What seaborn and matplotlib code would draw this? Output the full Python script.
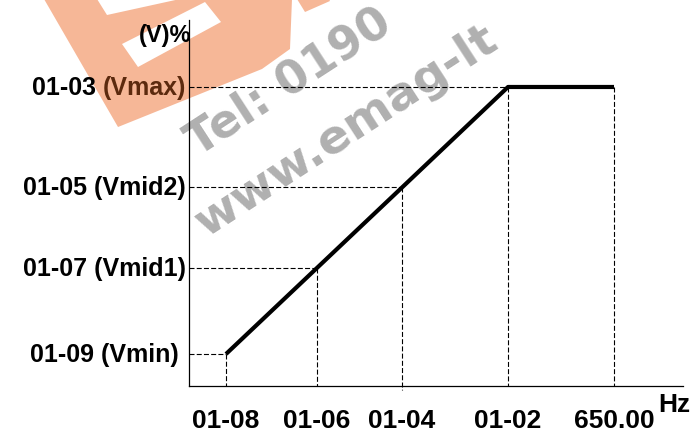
import matplotlib
matplotlib.use("Agg")
import matplotlib.pyplot as plt
from matplotlib.patches import Polygon
from matplotlib.transforms import Affine2D, offset_copy
import pandas as pd
import seaborn as sns

sns.set_style("white")
plt.rcParams["font.family"] = ["Liberation Sans", "DejaVu Sans"]

# V/f curve break points (parameter names as axis labels)
freq_labels = ["01-08", "01-06", "01-04", "01-02", "650.00"]
freq = [56.6, 195.8, 325.8, 487.9, 650.0]
volt_labels = ["01-09 (Vmin) ", "01-07 (Vmid1)", "01-05 (Vmid2)", "01-03 (Vmax)"]
volt = [10.7, 39.5, 66.4, 100.0]
curve_volt = volt + [volt[-1]]  # voltage stays at Vmax above base frequency

W, H = 693, 439
fig = plt.figure(figsize=(W / 100, H / 100), dpi=100)
ax = fig.add_axes([189 / W, 52 / H, 494 / W, 366 / H])
ax.patch.set_alpha(0)

# ---- background logo / watermark (figure pixel coordinates, y downward) ----
px = Affine2D().scale(1 / W, -1 / H).translate(0, 1) + fig.transFigure
orange = "#F6B797"
logo_parts = [
    [(44, 0), (118, 128), (262, 70), (290, 50), (292, 0)],
    [(297, 0), (305, 13), (330, 2), (329, 0)],
]
holes = [
    [(122, 45), (138, 68), (221, 23), (205, 3)],
    [(97, 0), (107, 16), (180, 0)],
]
for pts in logo_parts:
    fig.add_artist(Polygon(pts, closed=True, transform=px, fc=orange, ec="none", zorder=-3))
for pts in holes:
    fig.add_artist(Polygon(pts, closed=True, transform=px, fc="white", ec="none", zorder=-2))
wm = dict(rotation=33, rotation_mode="anchor", ha="left", va="baseline",
          fontweight="bold", color="#b0b0b0", family="DejaVu Sans", zorder=-1)
fig.text(198 / W, 1 - 157 / H, "Tel: 0190", fontsize=33, **wm)
fig.text(206 / W, 1 - 238 / H, "www.emag-lt", fontsize=34, **wm)

# ---- the V/f curve ----
df = pd.DataFrame({"Hz": freq, "V": curve_volt})
sns.lineplot(data=df, x="Hz", y="V", ax=ax, color="black", lw=3.0,
             sort=False, solid_capstyle="butt", zorder=5)

ax.set_xlim(0, 755.5)
ax.set_ylim(0, 122.4)

dash = dict(color="black", lw=0.8, dashes=(4.5, 2), zorder=3)
for f, v in zip(freq[:4], volt):
    ax.plot([0, f], [v, v], **dash)
for i, (f, v) in enumerate(zip(freq, curve_volt)):
    bottom = -1.4 if i == 2 else 0
    ax.plot([f, f], [v, bottom], clip_on=False, **dash)

sns.despine(ax=ax)
for s in ("left", "bottom"):
    ax.spines[s].set_linewidth(0.9)
    ax.spines[s].set_color("black")
ax.set_xticks([])
ax.set_yticks([])
ax.set_xlabel("")
ax.set_ylabel("")

# ---- labels ----
xl = offset_copy(ax.transData, fig=fig, x=0, y=-41, units="dots")
for f, lab in zip(freq, freq_labels):
    ax.text(f, 0, lab, transform=xl, ha="center", va="baseline",
            fontsize=19, fontweight="bold", color="black")

lab_kw = dict(fontsize=18, fontweight="bold")
yl = offset_copy(ax.transData, fig=fig, x=-3, y=-7, units="dots")
for v, lab in zip(volt[:-1], volt_labels[:-1]):
    ax.text(0, v, lab, transform=yl, ha="right", va="baseline", color="black", **lab_kw)
# top label: the "(Vmax)" part lies on the logo and reads brown
code, name = volt_labels[-1].split(" ", 1)
vmax_name = ax.text(0, volt[-1], name, transform=yl, ha="right", va="baseline",
                    color="#5C2A0E", **lab_kw)
ax.annotate(code + " ", xy=(0, 0), xycoords=vmax_name, ha="right", va="bottom",
            color="black", **lab_kw)

ax.text(0.949, -0.068, "Hz", transform=ax.transAxes, ha="left", va="baseline",
        fontsize=19, fontweight="bold", color="black")
ax.text(0.004, 0.943, "(V)%", transform=ax.transAxes, ha="right", va="baseline",
        fontsize=17, fontweight="bold", color="black")

fig.savefig("out.png", dpi=100, facecolor="white")
